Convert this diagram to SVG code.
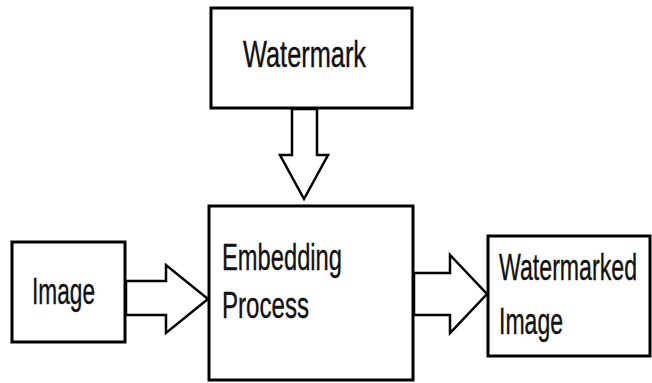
<svg xmlns="http://www.w3.org/2000/svg" width="652" height="383" viewBox="0 0 652 383">
<style>
.box{fill:#fff;stroke:#000;stroke-width:3}
.arr{fill:#fff;stroke:#000;stroke-width:2.5;stroke-linejoin:miter}
.t{font-family:"Liberation Sans",Arial,sans-serif;font-size:37px;fill:#111;stroke:#111;stroke-width:0.4}
</style>
<rect width="652" height="383" fill="#fff"/>
<g id="watermark">
<rect class="box" x="211" y="8" width="201" height="100"/>
<text class="t" x="243" y="67" textLength="123" lengthAdjust="spacingAndGlyphs">Watermark</text>
</g>
<g id="image">
<rect class="box" x="12" y="242" width="113" height="100"/>
<text class="t" x="32" y="304" textLength="63" lengthAdjust="spacingAndGlyphs">Image</text>
</g>
<g id="embedding">
<rect class="box" x="209" y="206" width="204" height="174"/>
<text class="t" x="222" y="270" textLength="120" lengthAdjust="spacingAndGlyphs">Embedding</text>
<text class="t" x="222" y="318" textLength="87" lengthAdjust="spacingAndGlyphs">Process</text>
</g>
<g id="watermarked">
<rect class="box" x="488" y="236" width="162" height="120"/>
<text class="t" x="499" y="280" textLength="138" lengthAdjust="spacingAndGlyphs">Watermarked</text>
<text class="t" x="499" y="334" textLength="64" lengthAdjust="spacingAndGlyphs">Image</text>
</g>
<g id="connectors">
<polygon class="arr" points="292,109 317,109 317,155 328,155 304,199 280,155 292,155"/>
<polygon class="arr" points="126,281 166,281 166,265 208,299 166,333 166,315 126,315"/>
<polygon class="arr" points="414,273 450,273 450,255 487,294 450,333 450,315 414,315"/>
</g>
</svg>
